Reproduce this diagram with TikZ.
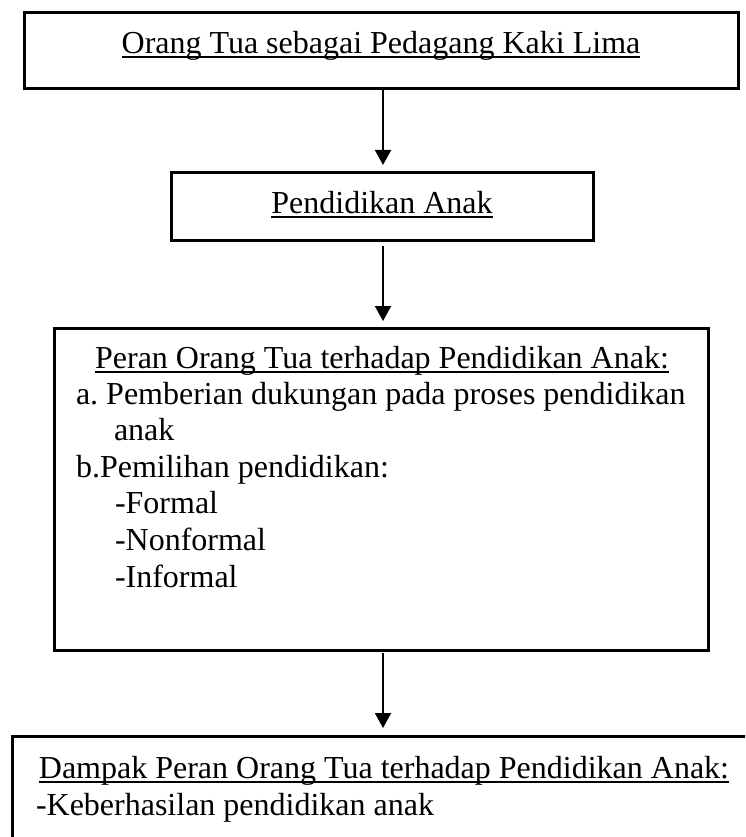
\documentclass[tikz,border=0pt]{standalone}
\usepackage{fontspec}
\setmainfont{Liberation Serif}
\usetikzlibrary{arrows.meta}
\newcommand\ulin[1]{\leavevmode\setbox0\hbox{#1}\rlap{\rule[-4.5pt]{\wd0}{1.8pt}}\box0}
\frenchspacing
\begin{document}
\begin{tikzpicture}[x=1pt,y=-1pt,
  font=\fontsize{32pt}{36.6pt}\selectfont,
  box/.style={draw,line width=3pt,rectangle,inner sep=0pt,outer sep=0pt},
  txt/.style={inner sep=0pt,outer sep=0pt},
  arr/.style={line width=2pt,-{Triangle[width=16pt,length=15pt]}}]
\useasboundingbox (0,0) rectangle (745,837);
\clip (0,0) rectangle (745,837);
% boxes
\node[box,minimum width=714pt,minimum height=76pt] (b1) at (381,51) {};
\node[box,minimum width=422pt,minimum height=67pt] (b2) at (382,206.5) {};
\node[box,minimum width=654pt,minimum height=322pt] (b3) at (381,489) {};
\node[box,minimum width=744pt,minimum height=164pt] (b4) at (384,818) {};
% texts
\node[txt,anchor=base] (t1) at (381,53.5) {\ulin{Orang Tua sebagai Pedagang Kaki Lima}};
\node[txt,anchor=base] (t2) at (382,213) {\ulin{Pendidikan Anak}};
\node[txt,anchor=base] (t3) at (382,368) {\ulin{Peran Orang Tua terhadap Pendidikan Anak:}};
\node[txt,anchor=base west] (t3a) at (76,404) {a. Pemberian dukungan pada proses pendidikan};
\node[txt,anchor=base west] (t3b) at (114,440.6) {anak};
\node[txt,anchor=base west] (t3c) at (76,477.2) {b.Pemilihan pendidikan:};
\node[txt,anchor=base west] (t3d) at (115,513.8) {-Formal};
\node[txt,anchor=base west] (t3e) at (115,550.4) {-Nonformal};
\node[txt,anchor=base west] (t3f) at (115,587) {-Informal};
\node[txt,anchor=base] (t4) at (384,778) {\ulin{Dampak Peran Orang Tua terhadap Pendidikan Anak:}};
\node[txt,anchor=base west] (t4a) at (36,815) {-Keberhasilan pendidikan anak};
% arrows
\draw[arr] ([xshift=2pt]b1.south) -- ([xshift=1pt,yshift=8pt]b2.north);
\draw[arr] ([xshift=1pt,yshift=-6pt]b2.south) -- ([xshift=2pt,yshift=7pt]b3.north);
\draw[arr] ([xshift=2pt,yshift=-3pt]b3.south) -- ([xshift=-1pt,yshift=8pt]b4.north);
\end{tikzpicture}
\end{document}
